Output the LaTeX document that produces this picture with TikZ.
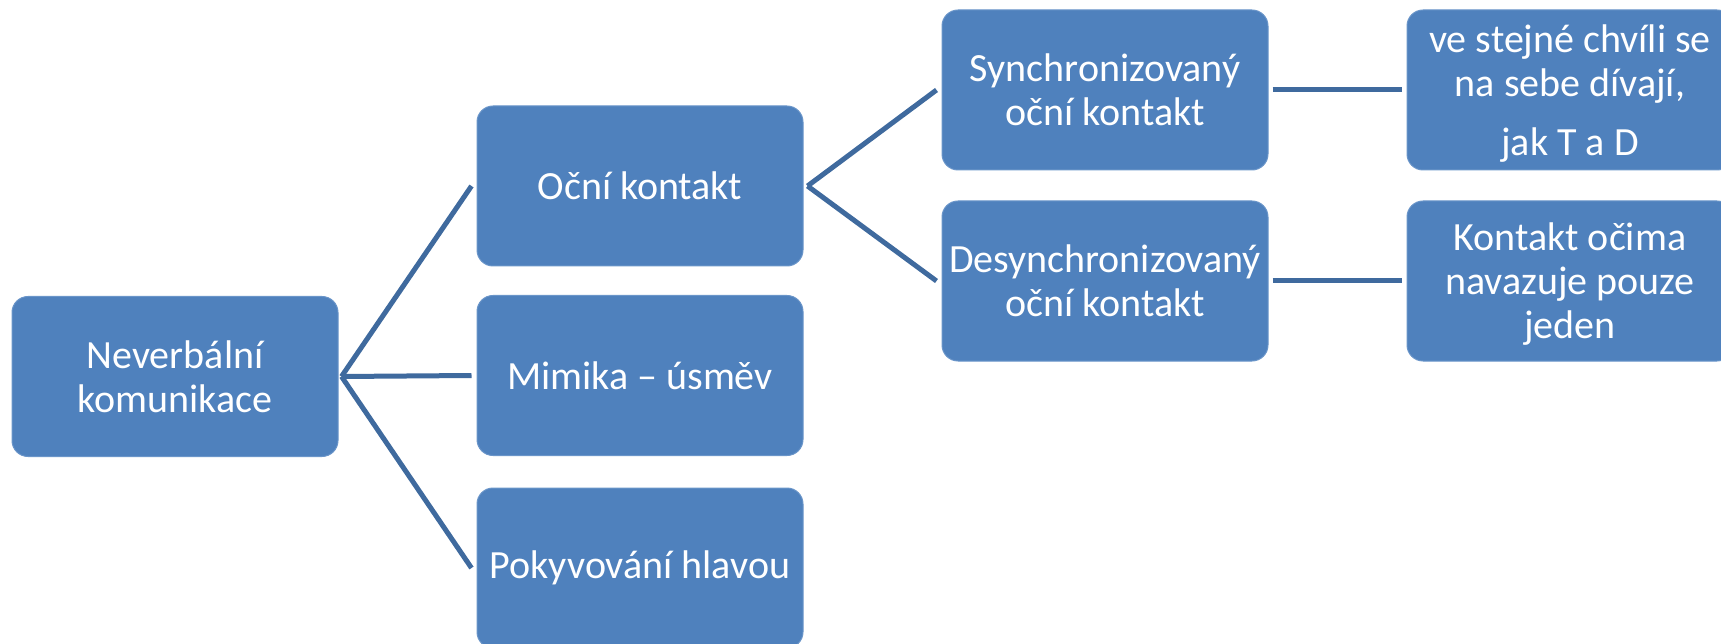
\documentclass[tikz,border=0pt]{standalone}
\usepackage{fontspec}
\setmainfont{Carlito}
\definecolor{boxfill}{HTML}{4F81BD}
\definecolor{boxedge}{HTML}{6A95C9}
\definecolor{linecol}{HTML}{3F6A9E}
\begin{document}
\begin{tikzpicture}[x=1pt,y=-1pt,
  box/.style={rectangle, rounded corners=16pt, fill=boxfill, draw=boxedge, line width=1pt,
    minimum width=326pt, minimum height=160pt, text width=316pt, align=flush center,
    text=white, font=\fontsize{40}{44}\selectfont, inner sep=0pt},
  conn/.style={draw=linecol, line width=5pt}]
\useasboundingbox (0,0) rectangle (1721,644);
\node[box] (root) at (175,376.5) {Neverbální\\komunikace};
\node[box] (ock) at (640,186) {Oční kontakt};
\node[box] (mim) at (640,375.5) {Mimika – úsměv};
\node[box] (pok) at (640,568) {Pokyvování hlavou};
\node[box] (syn) at (1105,90) {Synchronizovaný\\oční kontakt};
\node[box] (des) at (1105,281) {Desynchronizovaný\\oční kontakt};
\node[box] (r1) at (1570,90) {\rule{0pt}{35pt}ve stejné chvíli se\\na sebe dívají,\\[15pt]jak T a D};
\node[box] (r2) at (1570,281) {\rule{0pt}{33pt}Kontakt očima\\navazuje pouze\\jeden};
\draw[conn] ([xshift=3pt]root.east) -- ([xshift=-5pt]ock.west);
\draw[conn] ([xshift=3pt]root.east) -- ([xshift=-5pt]mim.west);
\draw[conn] ([xshift=3pt]root.east) -- ([xshift=-5pt]pok.west);
\draw[conn] ([xshift=4pt]ock.east) -- ([xshift=-5pt]syn.west);
\draw[conn] ([xshift=4pt]ock.east) -- ([xshift=-5pt]des.west);
\draw[conn] ([xshift=4pt]syn.east) -- ([xshift=-5pt]r1.west);
\draw[conn] ([xshift=4pt]des.east) -- ([xshift=-5pt]r2.west);
\end{tikzpicture}
\end{document}
